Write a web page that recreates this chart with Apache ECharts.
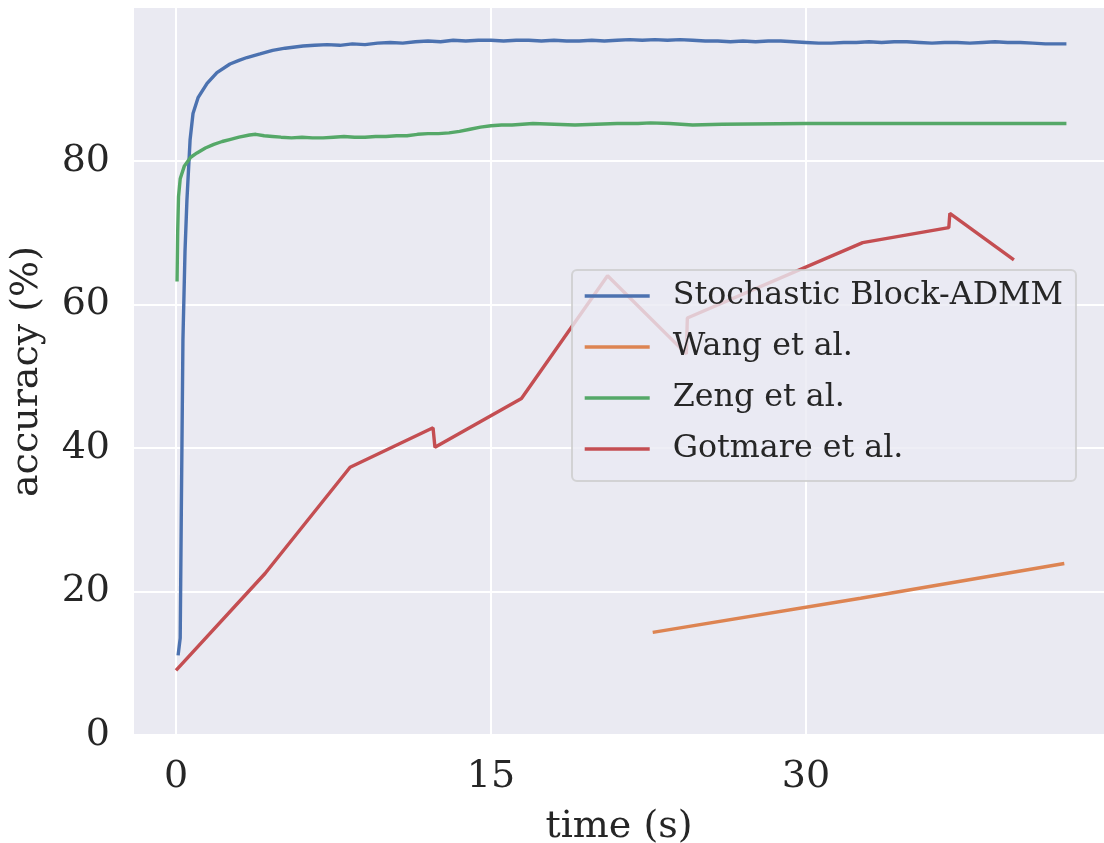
<!DOCTYPE html>
<html>
<head>
<meta charset="utf-8">
<script src="https://cdn.jsdelivr.net/npm/echarts@6/dist/echarts.min.js"></script>
<style>
  html, body { margin: 0; padding: 0; background: #fff; }
  #chart { width: 1104px; height: 843px; }
</style>
</head>
<body>
<div id="chart"></div>
<script>
// tick positions
const xTicks = [0, 15, 30]
const yTicks = [0, 20, 40, 60, 80]

const seriesNames = ['Stochastic Block-ADMM', 'Wang et al.', 'Zeng et al.', 'Gotmare et al.']
const colors = ['#4C72B0', '#DD8452', '#55A868', '#C44E52']

// Stochastic Block-ADMM (time s, accuracy %)
const blueX = [0.1, 0.2, 0.25, 0.33, 0.43, 0.52, 0.67, 0.81, 1.05, 1.48, 1.95, 2.57, 3.0, 3.38, 4.0, 4.6, 5.2,
  6.05, 6.6, 7.2, 7.8, 8.4, 9.0, 9.6, 10.2, 10.8, 11.4, 12.0, 12.6, 13.2, 13.8, 14.4, 15.0, 15.6, 16.2,
  16.8, 17.4, 18.0, 18.6, 19.2, 19.8, 20.4, 21.0, 21.6, 22.2, 22.8, 23.4, 24.0, 24.6, 25.2, 25.8, 26.4,
  27.0, 27.6, 28.2, 28.8, 29.4, 30.0, 30.6, 31.2, 31.8, 32.4, 33.0, 33.6, 34.2, 34.8, 35.4, 36.0, 36.6,
  37.2, 37.8, 38.4, 39.0, 39.6, 40.2, 40.8, 41.4, 42.0, 42.4]
const blueY = [11.1, 13.5, 30.0, 55.0, 67.5, 74.5, 82.9, 86.6, 88.8, 90.8, 92.3, 93.5, 94.0, 94.4, 94.9, 95.4, 95.7,
  96.0, 96.1, 96.2, 96.1, 96.3, 96.2, 96.4, 96.5, 96.4, 96.6, 96.7, 96.6, 96.8, 96.7, 96.8, 96.8, 96.7, 96.8,
  96.8, 96.7, 96.8, 96.7, 96.7, 96.8, 96.7, 96.8, 96.9, 96.8, 96.9, 96.8, 96.9, 96.8, 96.7, 96.7, 96.6,
  96.7, 96.6, 96.7, 96.7, 96.6, 96.5, 96.4, 96.4, 96.5, 96.5, 96.6, 96.5, 96.6, 96.6, 96.5, 96.4, 96.5,
  96.5, 96.4, 96.5, 96.6, 96.5, 96.5, 96.4, 96.3, 96.3, 96.3]

// Wang et al.
const orangeX = [22.7, 32.6, 42.3]
const orangeY = [14.3, 19.05, 23.9]

// Zeng et al.
const greenX = [0.05, 0.08, 0.12, 0.2, 0.4, 0.7, 1.0, 1.4, 1.8, 2.2, 2.6, 3.0, 3.5, 3.8, 4.2, 4.6, 5.0, 5.5,
  6.0, 6.5, 7.0, 7.5, 8.0, 8.5, 9.0, 9.5, 10.0, 10.5, 11.0, 11.5, 12.0, 12.5, 13.0, 13.5, 14.0, 14.5, 15.0,
  15.5, 16.0, 16.5, 17.0, 18.0, 19.0, 20.0, 21.0, 22.0, 22.6, 23.5, 24.6, 26.0, 30.0, 35.0, 40.0, 42.4]
const greenY = [63.2, 70.0, 75.0, 77.5, 79.3, 80.5, 81.1, 81.8, 82.3, 82.7, 83.0, 83.3, 83.6, 83.7, 83.5, 83.4, 83.3, 83.2,
  83.3, 83.2, 83.2, 83.3, 83.4, 83.3, 83.3, 83.4, 83.4, 83.5, 83.5, 83.7, 83.8, 83.8, 83.9, 84.1, 84.4, 84.7, 84.9,
  85.0, 85.0, 85.1, 85.2, 85.1, 85.0, 85.1, 85.2, 85.2, 85.3, 85.2, 85.0, 85.1, 85.2, 85.2, 85.2, 85.2]

// Gotmare et al.
const redX = [0, 4.24, 8.29, 12.24, 12.33, 16.45, 20.55, 24.3, 24.35, 32.7, 36.8, 36.85, 39.9]
const redY = [9.0, 22.5, 37.3, 42.8, 40.1, 46.9, 64.0, 53.1, 58.1, 68.6, 70.7, 72.7, 66.2]

const zip = (xs, ys) => xs.map((x, i) => [x, ys[i]])

const font = 'DejaVu Serif'
const textColor = '#262626'

const chart = echarts.init(document.getElementById('chart'))

const makeSeries = (i, xs, ys) => ({
  name: seriesNames[i],
  type: 'line',
  data: zip(xs, ys),
  showSymbol: false,
  symbol: 'none',
  lineStyle: { color: colors[i], width: 3.4 },
  itemStyle: { color: colors[i] },
  animation: false
})

chart.setOption({
  animation: false,
  grid: {
    left: 134, right: 0, top: 8, bottom: 108,
    outerBoundsMode: 'none',
    containLabel: false,
    show: true, backgroundColor: '#EAEAF2', borderWidth: 0
  },
  xAxis: {
    type: 'value',
    min: -2,
    max: 44.19,
    name: 'time (s)',
    nameLocation: 'middle',
    nameGap: 73,
    nameTextStyle: { fontFamily: font, fontSize: 38, color: textColor },
    axisLine: { show: false },
    axisTick: { show: false, customValues: xTicks },
    axisLabel: { customValues: xTicks, fontFamily: font, fontSize: 38, color: textColor, margin: 23 },
    splitLine: { show: true, lineStyle: { color: '#fff', width: 2 } }
  },
  yAxis: {
    type: 'value',
    min: 0,
    max: 101.3,
    name: 'accuracy (%)',
    nameLocation: 'middle',
    nameGap: 88,
    nameTextStyle: { fontFamily: font, fontSize: 38, color: textColor },
    axisLine: { show: false },
    axisTick: { show: false, customValues: yTicks },
    axisLabel: { customValues: yTicks, fontFamily: font, fontSize: 38, color: textColor, margin: 24 },
    splitLine: { show: true, lineStyle: { color: '#fff', width: 2 } }
  },
  legend: {
    orient: 'vertical',
    left: 572,
    top: 270,
    padding: [10, 13, 16, 11],
    itemGap: 19,
    itemWidth: 65,
    itemHeight: 30,
    itemStyle: { opacity: 0 },
    lineStyle: { width: 3.4 },
    backgroundColor: 'rgba(234,234,242,0.8)',
    borderColor: 'rgba(204,204,204,0.8)',
    borderWidth: 2,
    borderRadius: 5,
    data: seriesNames,
    textStyle: { fontFamily: font, fontSize: 31.7, color: textColor, lineHeight: 30, padding: [0, 0, 0, 18] }
  },
  series: [
    makeSeries(0, blueX, blueY),
    makeSeries(1, orangeX, orangeY),
    makeSeries(2, greenX, greenY),
    makeSeries(3, redX, redY)
  ]
})
</script>
</body>
</html>
